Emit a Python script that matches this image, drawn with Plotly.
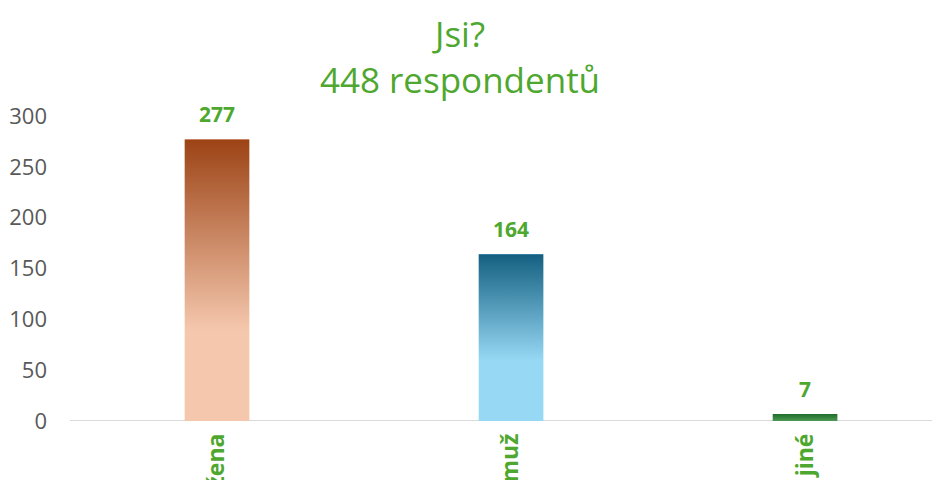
import plotly.graph_objects as go

# data
categories = ['žena', 'muž', 'jiné']
counts = [277, 164, 7]
total = 448

# gradient colours per bar (bottom -> top)
bar_light = ['#f5c8ae', '#97d9f5', '#4c9a52']
bar_dark = ['#9c4315', '#145f80', '#1f6b2a']
light_share = [0.32, 0.36, 0.0]

green = '#4ea72e'
bar_w = 0.22

fig = go.Figure()

# base bars
fig.add_trace(go.Bar(
    x=list(range(len(categories))),
    y=counts,
    width=bar_w,
    marker=dict(color=bar_light, line=dict(width=0)),
    hoverinfo='skip',
    showlegend=False
))

# gradient overlay on each bar
for i, (v, lo, hi, share) in enumerate(zip(counts, bar_light, bar_dark, light_share)):
    fig.add_trace(go.Scatter(
        x=[i - bar_w / 2, i + bar_w / 2, i + bar_w / 2, i - bar_w / 2, i - bar_w / 2],
        y=[0, 0, v, v, 0],
        fill='toself',
        mode='lines',
        line=dict(width=0),
        fillgradient=dict(
            type='vertical',
            colorscale=[[0, lo], [share, lo], [1, hi]],
            start=0,
            stop=v
        ),
        hoverinfo='skip',
        showlegend=False
    ))

# value labels above the bars
for i, v in enumerate(counts):
    fig.add_annotation(
        x=i, y=v, text='<b>%d</b>' % v,
        showarrow=False, yanchor='bottom', yshift=9,
        font=dict(size=21, color=green, family='Open Sans')
    )

# baseline running to the right edge
fig.add_shape(
    type='line', xref='paper', yref='y',
    x0=0, x1=1.05, y0=0, y1=0,
    line=dict(color='#d9d9d9', width=2),
    layer='below'
)

fig.update_layout(
    width=932,
    height=472,
    margin=dict(l=62, r=0, t=108, b=59),
    paper_bgcolor='white',
    plot_bgcolor='white',
    font=dict(family='Open Sans', color='#595959'),
    title=dict(
        text='Jsi?<br>%d respondentů' % total,
        x=452 / 932,
        xref='container',
        xanchor='center',
        y=1 - 39 / 472,
        yref='container',
        yanchor='middle',
        font=dict(size=35, color=green, family='Open Sans')
    ),
    bargap=0,
    xaxis=dict(
        range=[-0.5, 2.459],
        tickvals=list(range(len(categories))),
        ticktext=['<b>%s</b>' % c for c in categories],
        tickangle=-90,
        tickfont=dict(size=23, color=green, family='Open Sans'),
        showgrid=False,
        zeroline=False,
        showline=False,
        ticks='',
        ticklabelstandoff=7,
        automargin=False
    ),
    yaxis=dict(
        range=[0, 300],
        dtick=50,
        tickfont=dict(size=22, color='#595959'),
        showgrid=False,
        zeroline=False,
        showline=False,
        ticks='',
        ticklabelstandoff=22,
        automargin=False
    )
)

fig.write_html('out.html')
